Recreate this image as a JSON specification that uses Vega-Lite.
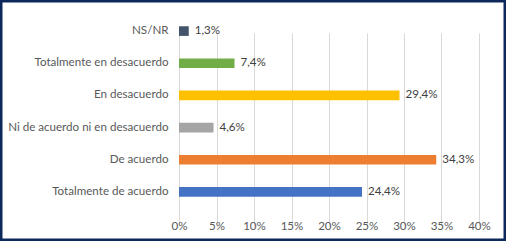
{
  "$schema": "https://vega.github.io/schema/vega-lite/v6.json",
  "width": 506,
  "height": 241,
  "autosize": {"type": "none"},
  "padding": 0,
  "background": "white",
  "config": {
    "locale": {"number": {"decimal": ",", "thousands": ".", "grouping": [3], "currency": ["", " €"]}},
    "view": {"stroke": "#0E285C", "strokeWidth": 5, "cornerRadius": 2, "fill": "white"},
    "font": "Lato"
  },
  "data": {
    "values": [
      {"categoria": "NS/NR", "valor": 0.013, "color": "#44546A"},
      {"categoria": "Totalmente en desacuerdo", "valor": 0.074, "color": "#70AD47"},
      {"categoria": "En desacuerdo", "valor": 0.294, "color": "#FFC000"},
      {"categoria": "Ni de acuerdo ni en desacuerdo", "valor": 0.046, "color": "#A5A5A5"},
      {"categoria": "De acuerdo", "valor": 0.343, "color": "#ED7D31"},
      {"categoria": "Totalmente de acuerdo", "valor": 0.244, "color": "#4472C4"}
    ]
  },
  "encoding": {
    "y": {
      "field": "categoria", "type": "nominal", "sort": null,
      "scale": {"range": [15, 208], "paddingInner": 0.7, "paddingOuter": 0.35},
      "axis": {
        "title": null, "orient": "left", "offset": -170, "ticks": false, "tickSize": 0, "domain": false,
        "labelPadding": 2, "labelFontSize": 11.6, "labelColor": "#595959", "labelFont": "Lato", "grid": false,
        "labelLimit": 300
      }
    },
    "x": {
      "field": "valor", "type": "quantitative",
      "scale": {"domain": [0, 0.4], "range": [179, 479], "nice": false},
      "axis": {
        "title": null, "format": ".0%", "values": [0, 0.05, 0.1, 0.15, 0.2, 0.25, 0.3, 0.35, 0.4],
        "offset": -33, "ticks": false, "tickSize": 0, "domain": false, "labelPadding": 12,
        "labelFlush": false, "labelOverlap": false,
        "labelFontSize": 11.6, "labelColor": "#595959", "labelFont": "Lato",
        "grid": true, "gridColor": "#D9D9D9", "gridWidth": 1
      }
    }
  },
  "layer": [
    {"mark": {"type": "bar"}, "encoding": {"color": {"field": "color", "type": "nominal", "scale": null}}},
    {"mark": {"type": "text", "align": "left", "dx": 6, "fontSize": 11.6, "color": "#404040", "font": "Lato"},
     "encoding": {"text": {"field": "valor", "type": "quantitative", "format": ".1%"}}}
  ]
}
